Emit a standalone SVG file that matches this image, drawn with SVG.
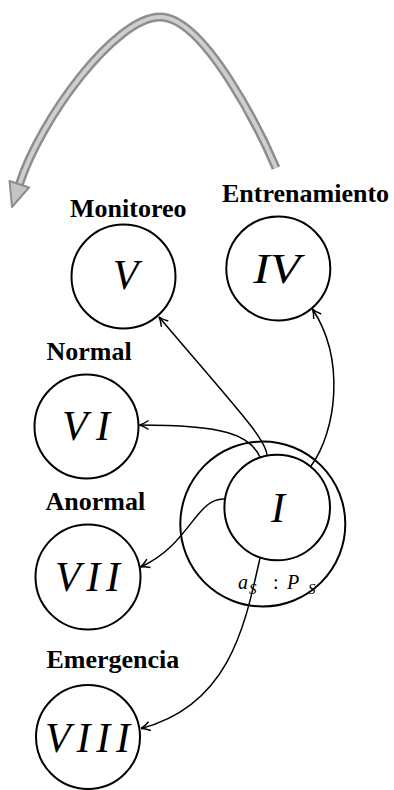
<svg xmlns="http://www.w3.org/2000/svg" width="394" height="790" viewBox="0 0 394 790">
<style>
.node{fill:none;stroke:#000;stroke-width:2}
.lbl{font-family:"Liberation Serif","Times New Roman",serif;font-weight:bold;font-size:26px;fill:#000}
.num{font-family:"Liberation Serif","Times New Roman",serif;font-style:italic;font-size:42px;fill:#000;text-anchor:middle}
.math{font-family:"Liberation Serif","Times New Roman",serif;font-style:italic;fill:#000}
.edge{fill:none;stroke:#000;stroke-width:1.5;marker-end:url(#arr)}
</style>
<defs>
<marker id="arr" markerUnits="userSpaceOnUse" viewBox="-11 -6 13 12" refX="0" refY="0" markerWidth="13" markerHeight="12" orient="auto" overflow="visible">
<path d="M-9,-4.5 Q-4,-1 0,0 Q-4,1 -9,4.5" fill="none" stroke="#000" stroke-width="1.5"/>
</marker>
</defs>
<rect width="394" height="790" fill="#fff"/>

<g id="big-arrow">
<path d="M276,168 C262,135 205,17 160,17 C115,17 40,120 19.5,184" fill="none" stroke="#8e8e8e" stroke-width="9"/>
<path d="M276,168 C262,135 205,17 160,17 C115,17 40,120 19.5,184" fill="none" stroke="#cfcfcf" stroke-width="4"/>
<polygon points="12,207 9.5,181 29,187.5" fill="#c4c4c4" stroke="#8e8e8e" stroke-width="2" stroke-linejoin="round"/>
</g>

<g id="node-V">
<text class="lbl" x="70" y="217">Monitoreo</text>
<circle class="node" cx="123.5" cy="276.5" r="52"/>
<text class="num" x="125.5" y="289">V</text>
</g>

<g id="node-IV">
<text class="lbl" x="222" y="202">Entrenamiento</text>
<circle class="node" cx="278.3" cy="268.5" r="52"/>
<text class="num" x="276.7" y="283" textLength="47" lengthAdjust="spacingAndGlyphs">IV</text>
</g>

<g id="node-VI">
<text class="lbl" x="46.5" y="360">Normal</text>
<circle class="node" cx="86.5" cy="426.5" r="52"/>
<text class="num" x="86" y="440" textLength="48" lengthAdjust="spacing">VI</text>
</g>

<g id="node-VII">
<text class="lbl" x="45.5" y="510">Anormal</text>
<circle class="node" cx="88" cy="577" r="52.5"/>
<text class="num" x="87.5" y="591" textLength="65" lengthAdjust="spacing">VII</text>
</g>

<g id="node-VIII">
<text class="lbl" x="46.5" y="668">Emergencia</text>
<circle class="node" cx="88" cy="737" r="52"/>
<text class="num" x="87.5" y="752" textLength="85" lengthAdjust="spacing">VIII</text>
</g>

<g id="node-I">
<circle class="node" cx="262.8" cy="524" r="82.5"/>
<circle class="node" cx="277.2" cy="507.5" r="52.8"/>
<text class="num" x="278" y="522">I</text>
<text class="math" font-size="20"><tspan x="238" y="589">a</tspan><tspan x="249" y="593.5" font-size="15">S</tspan><tspan x="273" y="589" font-style="normal">:</tspan><tspan x="287" y="589">P</tspan><tspan x="308" y="593.5" font-size="15">S</tspan></text>
</g>

<g id="connectors">
<path class="edge" d="M267,456 C267,440 238,410 159,317"/>
<path class="edge" d="M311,466 C336,432 346,360 312.5,309"/>
<path class="edge" d="M260,457 C250,435 225,425 139.5,425"/>
<path class="edge" d="M225,499 C196,497 190,545 140.5,567"/>
<path class="edge" d="M260,558 C245,625 230,705 141,728.5"/>
</g>
</svg>
